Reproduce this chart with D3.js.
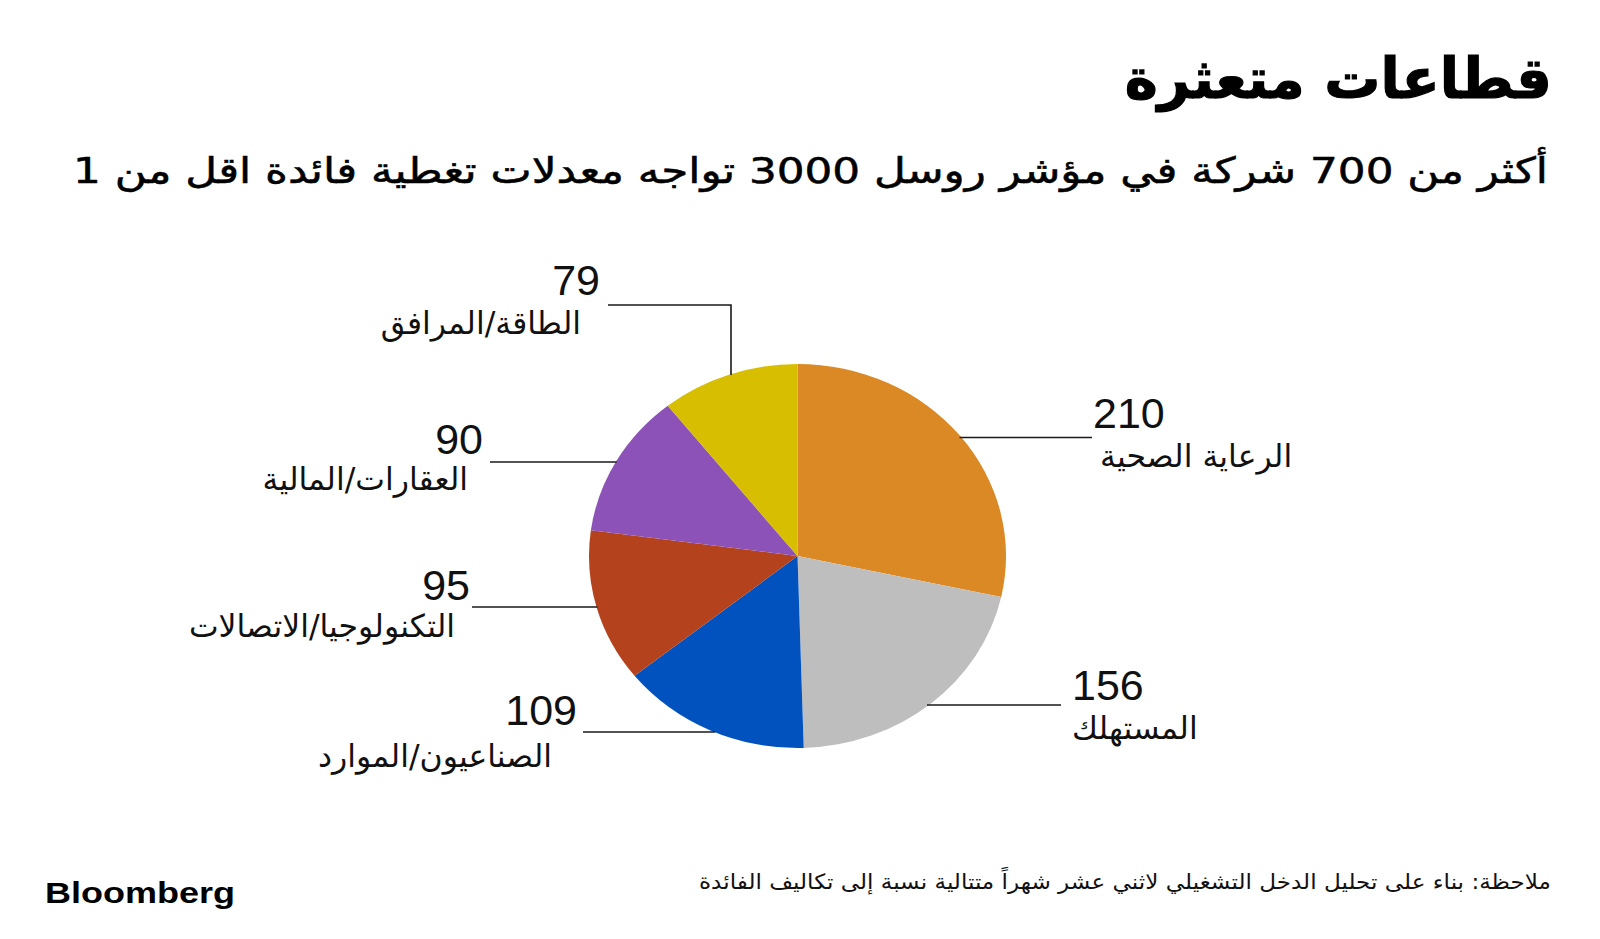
<!DOCTYPE html>
<html><head><meta charset="utf-8">
<script src="https://cdn.jsdelivr.net/npm/d3@7"></script>
<style>html,body{margin:0;padding:0;background:#fff;}svg{display:block;}</style>
</head><body>
<svg id="chart" width="1600" height="939"></svg>
<script>
// ---- data ----
const categories = ["الرعاية الصحية","المستهلك","الصناعيون/الموارد","التكنولوجيا/الاتصالات","العقارات/المالية","الطاقة/المرافق"];
const values = [210, 156, 109, 95, 90, 79];
const colors = ["#DB8924","#BEBEBE","#0152BE","#B4431D","#8D52B8","#D8BE00"];
const title = "قطاعات متعثرة";
const subtitle = "أكثر من 700 شركة في مؤشر روسل 3000 تواجه معدلات تغطية فائدة اقل من 1";
const note = "ملاحظة: بناء على تحليل الدخل التشغيلي لاثني عشر شهراً متتالية نسبة إلى تكاليف الفائدة";
const source = "Bloomberg";

// ---- layout (label placement) ----
const layout = [
  {side:"right", lineY:437.5, lineEnd:1092, numX:1093, numY:428, labX:1100, labY:467},
  {side:"right", lineY:705,   lineEnd:1061, numX:1072, numY:700, labX:1072, labY:739},
  {side:"left",  lineY:732,   lineEnd:583,  numX:577,  numY:725, labX:552,  labY:767},
  {side:"left",  lineY:607,   lineEnd:472,  numX:470,  numY:600, labX:455,  labY:637},
  {side:"left",  lineY:462,   lineEnd:490,  numX:483,  numY:454, labX:468,  labY:490},
  {side:"top",   lineY:305,   lineEnd:608,  lineX:731, numX:600, numY:295, labX:581, labY:334}
];

const svg = d3.select("#chart");
const cx = 797.5, cy = 556, rx = 208.5, ry = 192;
const sy = ry / rx;

const pie = d3.pie().sort(null).value(d => d)(values);
const arc = d3.arc().innerRadius(0).outerRadius(rx);

const g = svg.append("g").attr("transform", `translate(${cx},${cy}) scale(1,${sy})`);
g.selectAll("path").data(pie).join("path")
  .attr("d", arc)
  .attr("fill", (d,i) => colors[i]);

// leader lines
const edgeX = (y, dir) => cx + dir * rx * Math.sqrt(Math.max(0, 1 - Math.pow((y - cy) / ry, 2)));
const edgeY = (x) => cy - ry * Math.sqrt(Math.max(0, 1 - Math.pow((x - cx) / rx, 2)));
const lines = svg.append("g").attr("stroke", "#1a1a1a").attr("stroke-width", 1.6).attr("fill", "none");
layout.forEach(L => {
  if (L.side === "right") {
    lines.append("line").attr("x1", edgeX(L.lineY, 1) - 2).attr("x2", L.lineEnd).attr("y1", L.lineY).attr("y2", L.lineY);
  } else if (L.side === "left") {
    lines.append("line").attr("x1", L.lineEnd).attr("x2", edgeX(L.lineY, -1) + 1).attr("y1", L.lineY).attr("y2", L.lineY);
  } else {
    lines.append("path").attr("d", `M${L.lineEnd},${L.lineY}H${L.lineX}V${edgeY(L.lineX) + 1}`);
  }
});

// labels
const lab = svg.append("g");
values.forEach((v, i) => {
  const L = layout[i];
  lab.append("text")
    .attr("x", L.numX).attr("y", L.numY)
    .attr("text-anchor", L.side === "right" ? "start" : "end")
    .attr("font-family", "'Liberation Sans', Arial, sans-serif")
    .attr("font-size", 43).attr("fill", "#111")
    .text(v);
  const t = lab.append("text")
    .attr("y", L.labY)
    .attr("font-family", "'DejaVu Sans', sans-serif")
    .attr("font-size", 31.5).attr("fill", "#111")
    .attr("direction", "rtl")
    .text(categories[i]);
  if (L.side === "right") {
    t.attr("x", L.labX).attr("text-anchor", "end");
  } else {
    t.attr("x", L.labX).attr("text-anchor", "start");
  }
});

// title / subtitle
svg.append("text").attr("x", 1552).attr("y", 98)
  .attr("direction", "rtl").attr("text-anchor", "start")
  .attr("font-family", "'DejaVu Sans', sans-serif").attr("font-weight", "bold")
  .attr("font-size", 56).attr("fill", "#000")
  .attr("stroke", "#000").attr("stroke-width", 1.2)
  .text(title);

svg.append("text").attr("x", 1548).attr("y", 183)
  .attr("direction", "rtl").attr("text-anchor", "start")
  .attr("font-family", "'DejaVu Sans Condensed', 'DejaVu Sans', sans-serif")
  .attr("font-size", 36).attr("fill", "#000")
  .attr("stroke", "#000").attr("stroke-width", 0.5)
  .attr("textLength", 1475).attr("lengthAdjust", "spacingAndGlyphs")
  .text(subtitle);

// footer
svg.append("text").attr("x", 1551).attr("y", 889)
  .attr("direction", "rtl").attr("text-anchor", "start")
  .attr("font-family", "'DejaVu Sans Condensed', 'DejaVu Sans', sans-serif")
  .attr("font-size", 21).attr("fill", "#111")
  .attr("textLength", 852).attr("lengthAdjust", "spacingAndGlyphs")
  .text(note);

svg.append("text").attr("x", 45).attr("y", 903)
  .attr("font-family", "'Liberation Sans', Arial, sans-serif").attr("font-weight", "bold")
  .attr("font-size", 29).attr("fill", "#000")
  .attr("textLength", 190).attr("lengthAdjust", "spacingAndGlyphs")
  .text(source);
</script>
</body></html>
